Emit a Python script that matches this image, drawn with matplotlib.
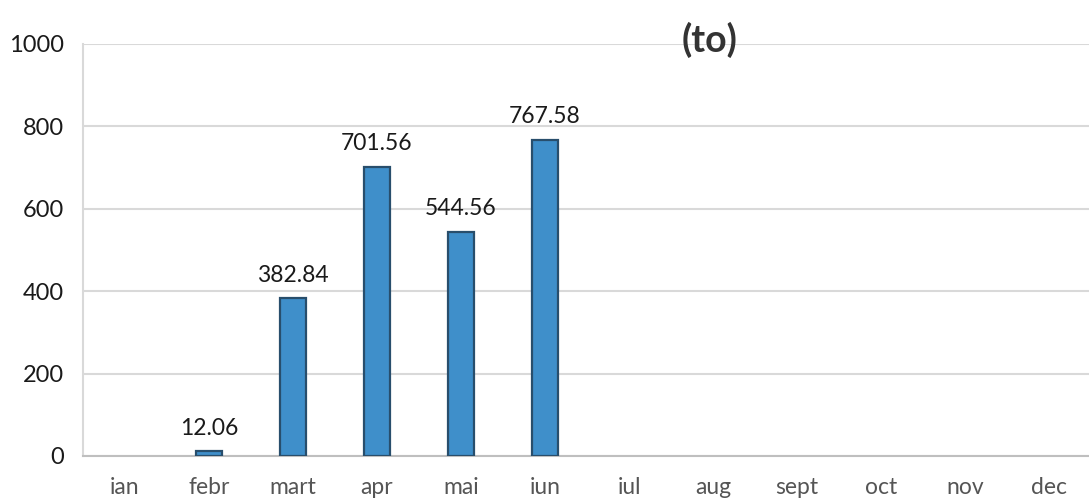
import matplotlib
matplotlib.use("Agg")
import matplotlib.pyplot as plt
import numpy as np

months = ["ian", "febr", "mart", "apr", "mai", "iun", "iul", "aug", "sept", "oct", "nov", "dec"]
values = [None, 12.06, 382.84, 701.56, 544.56, 767.58, None, None, None, None, None, None]
labels = ["", "12.06", "382.84", "701.56", "544.56", "767.58", "", "", "", "", "", ""]
title = "(to)"
yticks = [0, 200, 400, 600, 800, 1000]

plt.rcParams['font.family'] = ['Lato', 'DejaVu Sans']

fig = plt.figure(figsize=(10.89, 5.01), dpi=100)
ax = fig.add_axes([83/1089, 45/501, 1 - 83/1089, (456-44)/501])

x = np.arange(len(months))
xs = [xi for xi, v in zip(x, values) if v is not None]
vs = [v for v in values if v is not None]
ax.bar(xs, vs, width=0.3, color="#3f8fca", edgecolor="#284e6c", linewidth=1.6, zorder=3)

for xi, v, lab in zip(x, values, labels):
    if lab and v is not None:
        ax.annotate(lab, (xi, v), xytext=(0, 9), textcoords="offset points",
                    ha="center", va="bottom", fontsize=16.5, color="#1a1a1a", zorder=4)

ax.set_xlim(-0.5, 11.476)
ax.set_ylim(0, 1000)
ax.set_yticks(yticks)
ax.set_yticklabels([str(t) for t in yticks], fontsize=17, color="#1a1a1a")
ax.set_xticks(x)
ax.set_xticklabels(months, fontsize=16.5, color="#555555")
ax.tick_params(axis="both", length=0)
ax.tick_params(axis="y", pad=14)
ax.tick_params(axis="x", pad=15)

ax.grid(axis="y", color="#d9d9d9", linewidth=1.5, zorder=0)
for s in ["top", "right"]:
    ax.spines[s].set_visible(False)
ax.spines["left"].set_color("#d9d9d9")
ax.spines["left"].set_linewidth(1.5)
ax.spines["bottom"].set_color("#bfbfbf")
ax.spines["bottom"].set_linewidth(1.5)

fig.text(710/1089, 1 - 40/501, title, ha="center", va="center", fontsize=27,
         fontweight="bold", color="#333333")

fig.savefig("out.png", dpi=100)
